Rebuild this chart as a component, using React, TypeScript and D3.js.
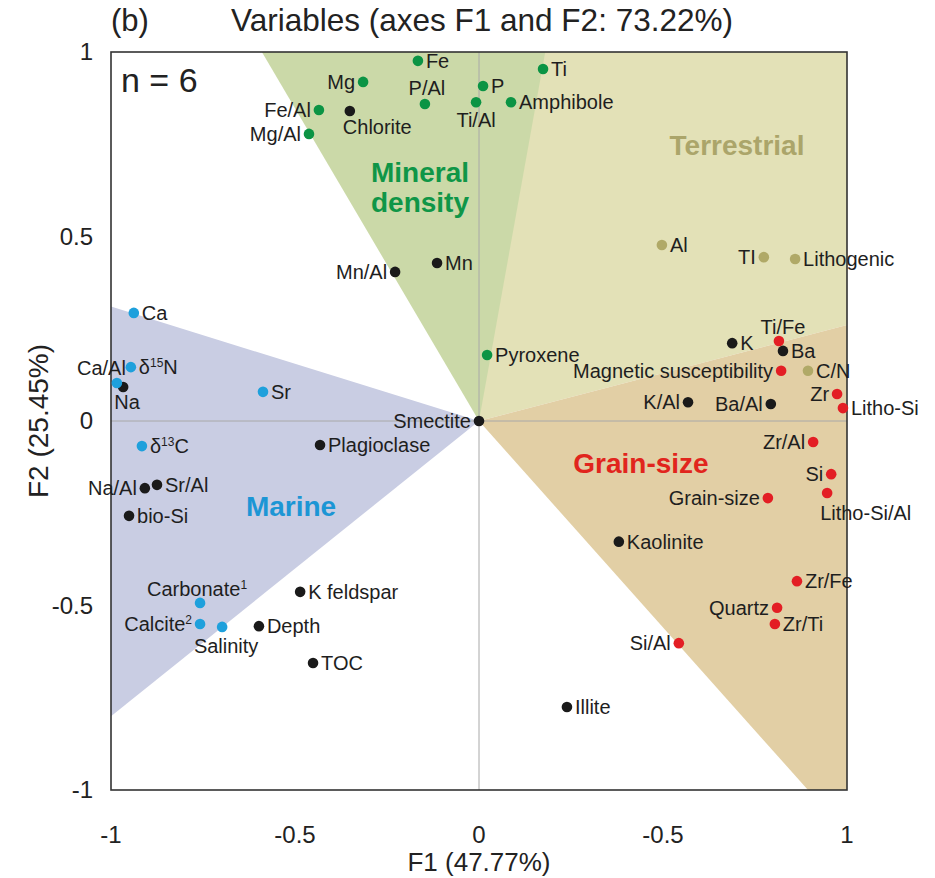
import React from "react";
import * as d3 from "d3";

// ---------- data ----------
type Pt = { name: string; x: number; y: number; group: string };

const mineralPts: [string, number, number][] = [
  ["Fe", -0.166, 0.976],
  ["Mg", -0.315, 0.919],
  ["P/Al", -0.147, 0.859],
  ["P", 0.011, 0.908],
  ["Ti/Al", -0.008, 0.864],
  ["Amphibole", 0.087, 0.864],
  ["Ti", 0.174, 0.954],
  ["Fe/Al", -0.435, 0.843],
  ["Mg/Al", -0.462, 0.778],
  ["Pyroxene", 0.022, 0.179],
];

const otherPts: [string, number, number][] = [
  ["Chlorite", -0.351, 0.84],
  ["Mn/Al", -0.228, 0.404],
  ["Mn", -0.114, 0.428],
  ["Smectite", 0, 0],
  ["Plagioclase", -0.432, -0.065],
  ["Na", -0.967, 0.092],
  ["Na/Al", -0.908, -0.182],
  ["Sr/Al", -0.875, -0.173],
  ["bio-Si", -0.951, -0.257],
  ["K feldspar", -0.486, -0.463],
  ["Depth", -0.598, -0.556],
  ["TOC", -0.451, -0.656],
  ["K", 0.688, 0.211],
  ["Ba", 0.826, 0.19],
  ["K/Al", 0.568, 0.051],
  ["Ba/Al", 0.793, 0.046],
  ["Kaolinite", 0.38, -0.327],
  ["Illite", 0.239, -0.775],
];

const marinePts: [string, number, number][] = [
  ["Ca", -0.938, 0.293],
  ["δ15N", -0.946, 0.146],
  ["Ca/Al", -0.984, 0.103],
  ["Sr", -0.587, 0.079],
  ["δ13C", -0.916, -0.068],
  ["Carbonate1", -0.758, -0.493],
  ["Calcite2", -0.758, -0.55],
  ["Salinity", -0.698, -0.558],
];

const terrestrialPts: [string, number, number][] = [
  ["Al", 0.497, 0.477],
  ["TI", 0.774, 0.444],
  ["Lithogenic", 0.859, 0.439],
  ["C/N", 0.894, 0.136],
];

const grainPts: [string, number, number][] = [
  ["Ti/Fe", 0.815, 0.217],
  ["Magnetic susceptibility", 0.821, 0.136],
  ["Zr", 0.973, 0.073],
  ["Litho-Si", 0.989, 0.035],
  ["Zr/Al", 0.908, -0.057],
  ["Si", 0.957, -0.144],
  ["Litho-Si/Al", 0.946, -0.195],
  ["Grain-size", 0.785, -0.209],
  ["Zr/Fe", 0.864, -0.434],
  ["Quartz", 0.81, -0.506],
  ["Zr/Ti", 0.804, -0.55],
  ["Si/Al", 0.543, -0.602],
];

// sector polygons (data coords)
const terrestrialPoly: [number, number][] = [[0, 0], [0, 1], [1, 1], [1, 0.26]];
const mineralPoly: [number, number][] = [[0, 0], [-0.59, 1], [0.18, 1]];
const grainPoly: [number, number][] = [[0, 0], [1, 0.26], [1, -1], [0.894, -1]];
const marinePoly: [number, number][] = [[0, 0], [-1, 0.31], [-1, -0.8]];

const xTickValues = [-1, -0.5, 0, 0.5, 1];
const xTickLabels = ["-1", "-0.5", "0", "-0.5", "1"];
const yTickValues = [-1, -0.5, 0, 0.5, 1];
const yTickLabels = ["-1", "-0.5", "0", "0.5", "1"];

const title = "Variables (axes F1 and F2: 73.22%)";
const panel = "(b)";
const nText = "n = 6";
const xTitle = "F1 (47.77%)";
const yTitle = "F2 (25.45%)";

// ---------- styles / layout ----------
const W = 935, H = 878;
const L = 111, R = 847, T = 52, B = 790;
const FONT = "'Liberation Sans', Arial, Helvetica, sans-serif";
const LABEL_SIZE = 20;

const groupColor: Record<string, string> = {
  mineral: "#0b9444",
  other: "#1a1a1a",
  marine: "#1ea0dc",
  terrestrial: "#b0a967",
  grain: "#e31e24",
};

// label placement overrides: [dx, dy, anchor]
const labelPos: Record<string, [number, number, string]> = {
  "P/Al": [2, -9, "middle"],
  "Ti/Al": [0, 25, "middle"],
  Chlorite: [-7, 23, "start"],
  Na: [4, 22, "middle"],
  "Ca/Al": [9, -8, "end"],
  Carbonate1: [-3, -7, "middle"],
  Salinity: [4, 26, "middle"],
  "Ti/Fe": [4, -7, "middle"],
  "Litho-Si/Al": [-7, 27, "start"],
};
const leftLabels = new Set([
  "Mg", "Fe/Al", "Mg/Al", "Mn/Al", "Smectite", "Na/Al", "Calcite2", "TI",
  "Magnetic susceptibility", "Zr", "K/Al", "Ba/Al", "Zr/Al", "Si", "Grain-size",
  "Quartz", "Si/Al",
]);

function renderLabel(name: string) {
  const sup = (main: string, s: string, rest = "") => (
    <>
      {main}
      <tspan fontSize="0.6em" dy="-0.6em">{s}</tspan>
      {rest ? <tspan dy="0.36em">{rest}</tspan> : null}
    </>
  );
  if (name === "δ15N") return sup("δ", "15", "N");
  if (name === "δ13C") return sup("δ", "13", "C");
  if (name === "Carbonate1") return sup("Carbonate", "1");
  if (name === "Calcite2") return sup("Calcite", "2");
  return name;
}

export default function App() {
  const x = d3.scaleLinear().domain([-1, 1]).range([L, R]);
  const y = d3.scaleLinear().domain([-1, 1]).range([B, T]);
  const line = d3.line<[number, number]>().x((d) => x(d[0])).y((d) => y(d[1]));
  const poly = (p: [number, number][]) => line(p) + "Z";

  const pts: Pt[] = [
    ...mineralPts.map(([name, a, b]) => ({ name, x: a, y: b, group: "mineral" })),
    ...otherPts.map(([name, a, b]) => ({ name, x: a, y: b, group: "other" })),
    ...marinePts.map(([name, a, b]) => ({ name, x: a, y: b, group: "marine" })),
    ...terrestrialPts.map(([name, a, b]) => ({ name, x: a, y: b, group: "terrestrial" })),
    ...grainPts.map(([name, a, b]) => ({ name, x: a, y: b, group: "grain" })),
  ];

  return (
    <div style={{ position: "absolute", left: 0, top: 0 }}>
      <svg width={W} height={H} style={{ display: "block", background: "#fff" }} fontFamily={FONT}>
        <defs>
          <clipPath id="plotclip">
            <rect x={L} y={T} width={R - L} height={B - T} />
          </clipPath>
        </defs>
        <g clipPath="url(#plotclip)">
          <path d={poly(terrestrialPoly)} fill="#e3e1b7" />
          <path d={poly(mineralPoly)} fill="#cbd9a8" />
          <path d={poly(grainPoly)} fill="#e2cfa5" />
          <path d={poly(marinePoly)} fill="#c9cde3" />
        </g>
        {/* zero lines */}
        <line x1={x(0)} x2={x(0)} y1={T} y2={B} stroke="#a8a8a8" strokeWidth={1} />
        <line x1={L} x2={R} y1={y(0)} y2={y(0)} stroke="#a8a8a8" strokeWidth={1} />
        {/* frame */}
        <rect x={L} y={T} width={R - L} height={B - T} fill="none" stroke="#333" strokeWidth={1.6} />

        {/* sector labels */}
        <text x={420} y={182} textAnchor="middle" fill="#0f9647" fontWeight="bold" fontSize={28}>Mineral</text>
        <text x={420} y={212} textAnchor="middle" fill="#0f9647" fontWeight="bold" fontSize={28}>density</text>
        <text x={737} y={155} textAnchor="middle" fill="#aba56a" fontWeight="bold" fontSize={28}>Terrestrial</text>
        <text x={641} y={473} textAnchor="middle" fill="#e1251d" fontWeight="bold" fontSize={28}>Grain-size</text>
        <text x={291} y={516} textAnchor="middle" fill="#1c96d5" fontWeight="bold" fontSize={28}>Marine</text>

        {/* points */}
        {pts.map((p) => {
          const cx = x(p.x), cy = y(p.y);
          let dx = 8, dy = 7, anchor = "start";
          if (leftLabels.has(p.name)) { dx = -8; anchor = "end"; }
          if (labelPos[p.name]) { [dx, dy, anchor] = labelPos[p.name]; }
          return (
            <g key={p.name}>
              <circle cx={cx} cy={cy} r={5.3} fill={groupColor[p.group]} />
              <text x={cx + dx} y={cy + dy} textAnchor={anchor} fontSize={LABEL_SIZE} fill="#1e1e1e">
                {renderLabel(p.name)}
              </text>
            </g>
          );
        })}

        {/* axes ticks */}
        {xTickValues.map((v, i) => (
          <text key={"x" + i} x={x(v)} y={843} textAnchor="middle" fontSize={24} fill="#222">{xTickLabels[i]}</text>
        ))}
        {yTickValues.map((v, i) => (
          <text key={"y" + i} x={93} y={y(v) + 8} textAnchor="end" fontSize={24} fill="#222">{yTickLabels[i]}</text>
        ))}
        <text x={x(0)} y={871} textAnchor="middle" fontSize={26} fill="#222">{xTitle}</text>
        <text transform={`translate(48, ${y(0)}) rotate(-90)`} textAnchor="middle" fontSize={28} fill="#222">{yTitle}</text>

        {/* titles */}
        <text x={111} y={31} fontSize={31} fill="#222">{panel}</text>
        <text x={482} y={31} textAnchor="middle" fontSize={31.5} fill="#222">{title}</text>
        <text x={121} y={92} fontSize={34} fill="#222">{nText}</text>
      </svg>
    </div>
  );
}
